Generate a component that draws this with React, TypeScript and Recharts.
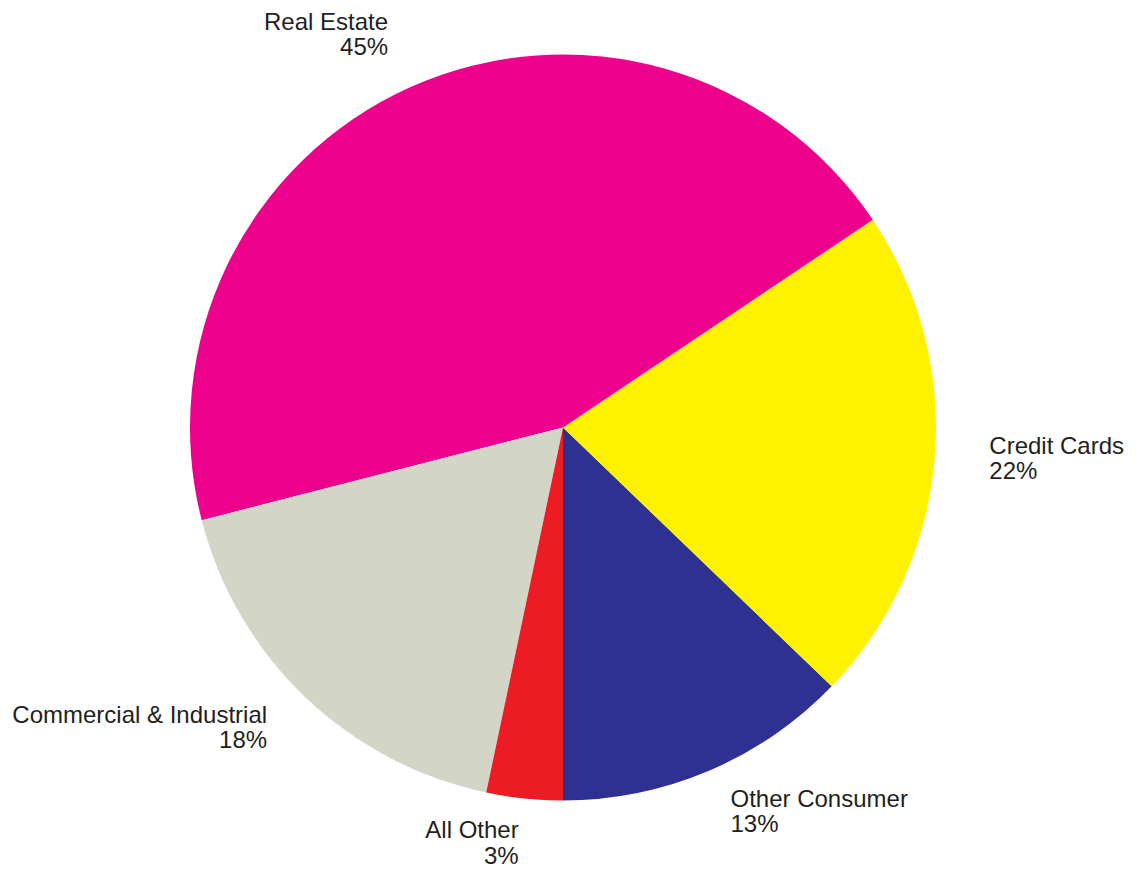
import React from "react";
import { PieChart, Pie, Cell } from "recharts";

const categories = ["Other Consumer", "Credit Cards", "Real Estate", "Commercial & Industrial", "All Other"];
const shares = [12.8, 21.6, 44.6, 17.7, 3.3];
const colors = ["#2E3192", "#FFF200", "#EC008C", "#D3D6C6", "#ED1C24"];

const data = categories.map((name, i) => ({ name, value: shares[i] }));

const RAD = Math.PI / 180;

const renderLabel = (props: any) => {
  const { cx, cy, midAngle, outerRadius, name, percent } = props;
  const rx = outerRadius + 55;
  const ry = outerRadius + 51;
  const x = cx + rx * Math.cos(-midAngle * RAD);
  const y = cy + ry * Math.sin(-midAngle * RAD) - 11;
  const anchor = Math.cos(-midAngle * RAD) >= 0 ? "start" : "end";
  return (
    <text
      x={x}
      y={y}
      textAnchor={anchor}
      fill="#231F20"
      fontSize={24}
      fontFamily="'Liberation Sans', Arial, sans-serif"
    >
      <tspan x={x}>{name}</tspan>
      <tspan x={x} dy={25.5}>{`${Math.round(percent * 100)}%`}</tspan>
    </text>
  );
};

export default function App() {
  return (
    <div style={{ width: 1136, height: 869, marginLeft: -8, marginTop: -8 }}>
      <PieChart width={1136} height={869} margin={{ top: 0, right: 0, bottom: 0, left: 0 }}>
        <Pie
          data={data}
          dataKey="value"
          nameKey="name"
          cx={563}
          cy={427.5}
          outerRadius={373}
          startAngle={-90}
          endAngle={270}
          stroke="none"
          label={renderLabel}
          labelLine={false}
          isAnimationActive={false}
        >
          {data.map((d, i) => (
            <Cell key={d.name} fill={colors[i]} />
          ))}
        </Pie>
      </PieChart>
    </div>
  );
}
